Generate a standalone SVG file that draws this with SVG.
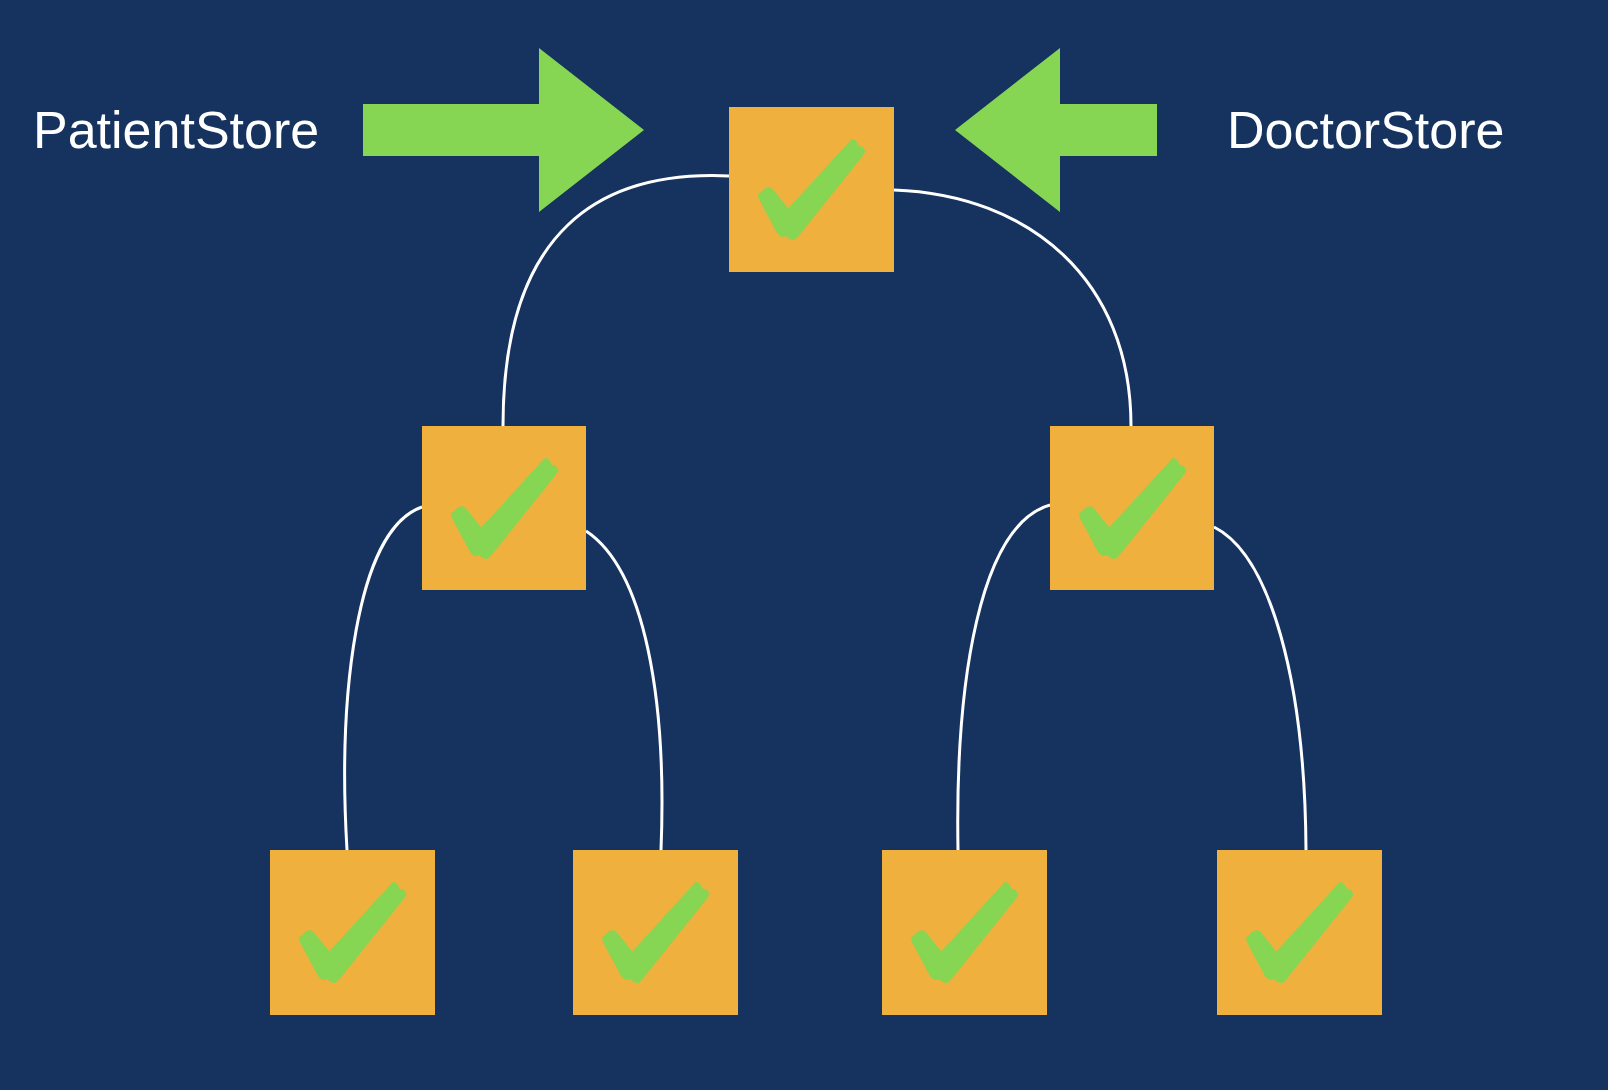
<svg xmlns="http://www.w3.org/2000/svg" xmlns:xlink="http://www.w3.org/1999/xlink" width="1608" height="1090" viewBox="0 0 1608 1090">
<style>
.bg{fill:#15335E}
.box{fill:#EFB03E}
.chk{fill:#86D653;stroke:#86D653;stroke-width:2;stroke-linejoin:round}
.edge{fill:none;stroke:#FFFFFF;stroke-width:3}
.arrow{fill:#86D653}
.lbl{font-family:"Liberation Sans",Arial,sans-serif;font-size:52px;fill:#FFFFFF}
</style>
<defs>
<polygon id="check" class="chk" points="59.3,103 123.3,33 126,34 129.3,39.7 133.3,40.7 135.3,44.7 132.7,48.7 69.3,128 65.3,132 61,131.3 57.7,128 52.7,129 49.3,126.3 31,92 30,88 33.3,85.3 36.7,82 41,81.3 43.3,83"/>
</defs>
<rect class="bg" x="0" y="0" width="1608" height="1090"/>
<g id="connectors">
<path class="edge" d="M729,176 C600,170 503,230 503,426"/>
<path class="edge" d="M894,190 C1030,195 1131,280 1131,426"/>
<path class="edge" d="M422,507 C355,530 338,700 347,850"/>
<path class="edge" d="M586,531 C645,570 667,700 661,850"/>
<path class="edge" d="M1050,505 C980,525 955,680 958,850"/>
<path class="edge" d="M1214,527 C1270,555 1305,680 1306,850"/>
</g>
<g id="patient-arrow">
<polygon class="arrow" points="363,104 539,104 539,48 644,130 539,212 539,156 363,156"/>
</g>
<g id="doctor-arrow">
<polygon class="arrow" points="1157,104 1060,104 1060,48 955,130 1060,212 1060,156 1157,156"/>
</g>
<g id="patient-label"><text class="lbl" x="33" y="148">PatientStore</text></g>
<g id="doctor-label"><text class="lbl" x="1227" y="148">DoctorStore</text></g>
<g id="node-root"><rect class="box" x="729" y="107" width="165" height="165"/><use xlink:href="#check" href="#check" x="729" y="107"/></g>
<g id="node-left"><rect class="box" x="422" y="426" width="164" height="164"/><use xlink:href="#check" href="#check" x="422" y="426"/></g>
<g id="node-right"><rect class="box" x="1050" y="426" width="164" height="164"/><use xlink:href="#check" href="#check" x="1050" y="426"/></g>
<g id="node-ll"><rect class="box" x="270" y="850" width="165" height="165"/><use xlink:href="#check" href="#check" x="270" y="850"/></g>
<g id="node-lr"><rect class="box" x="573" y="850" width="165" height="165"/><use xlink:href="#check" href="#check" x="573" y="850"/></g>
<g id="node-rl"><rect class="box" x="882" y="850" width="165" height="165"/><use xlink:href="#check" href="#check" x="882" y="850"/></g>
<g id="node-rr"><rect class="box" x="1217" y="850" width="165" height="165"/><use xlink:href="#check" href="#check" x="1217" y="850"/></g>
</svg>
